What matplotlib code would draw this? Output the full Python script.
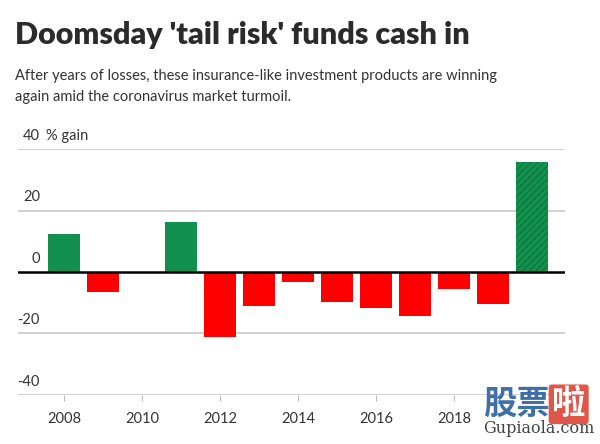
import matplotlib.pyplot as plt
import numpy as np

years = [2008, 2009, 2011, 2012, 2013, 2014, 2015, 2016, 2017, 2018, 2019, 2020]
gains = [12.5, -6.4, 16.3, -21.0, -11.0, -3.1, -9.6, -11.8, -14.2, -5.6, -10.4, 35.8]
tick_years = [2008, 2010, 2012, 2014, 2016, 2018]
y_ticks = [-40, -20, 0, 20, 40]

green = "#12904e"
red = "#ff0000"
dark = "#333333"

plt.rcParams["hatch.linewidth"] = 0.6
fig = plt.figure(figsize=(6, 4.44), dpi=100)
ax = fig.add_axes([0.03, 0.1104, 0.912, 0.554])

colors = [green if g > 0 else red for g in gains]
bars = ax.bar(years, gains, width=0.82, color=colors, zorder=3)
# latest year is hatched
bars[-1].set_hatch("/////")
bars[-1].set_edgecolor("#0b6b38")
bars[-1].set_linewidth(0)

ax.set_xlim(2006.82, 2020.85)
ax.set_ylim(-40, 40)

for v in y_ticks:
    if v == 0:
        ax.axhline(0, color="black", lw=1.8, zorder=4)
    else:
        ax.axhline(v, color="#d0d0d0", lw=1.4, zorder=1)
    ax.text(2007.38, v + 2.0, str(v), ha="right", va="bottom", fontsize=10.5,
            color=dark, family="Lato")
ax.text(2007.55, 42.0, "% gain", ha="left", va="bottom", fontsize=10.5,
        color=dark, family="Lato")

for s in ax.spines.values():
    s.set_visible(False)
ax.set_yticks([])
ax.set_xticks(tick_years)
ax.set_xticklabels([str(y) for y in tick_years], fontsize=10.5, color=dark,
                   family="Lato")
ax.tick_params(axis="x", length=4, color="#bbbbbb", pad=8)

fig.text(0.025, 0.902, "Doomsday 'tail risk' funds cash in", fontsize=22,
         fontweight="heavy", color="#2b2b2b", family="Lato", va="baseline")
fig.text(0.025, 0.820, "After years of losses, these insurance-like investment products are winning",
         fontsize=10.5, color=dark, family="Lato", va="baseline")
fig.text(0.025, 0.7725, "again amid the coronavirus market turmoil.",
         fontsize=10.5, color=dark, family="Lato", va="baseline")

# watermark
fig.text(0.805, 0.068, "股票", fontsize=24, fontweight="bold", color="#3f6fa8",
         family=["Noto Sans CJK SC", "DejaVu Sans"], va="baseline")
fig.text(0.92, 0.068, "啦", fontsize=24, fontweight="bold", color="white",
         family=["Noto Sans CJK SC", "DejaVu Sans"], va="baseline",
         bbox=dict(boxstyle="round,pad=0.1", fc="#e0574a", ec="none"))
fig.text(0.898, 0.025, "Gupiaola.com", fontsize=11.5, color="#444444",
         family="DejaVu Serif", ha="center", va="baseline")

fig.savefig("out.png", dpi=100, facecolor="white")
